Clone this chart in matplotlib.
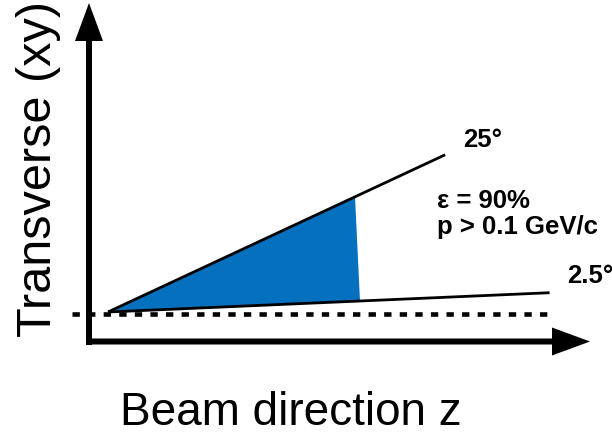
import numpy as np
import matplotlib
matplotlib.use("Agg")
import matplotlib.pyplot as plt

plt.rcParams["font.family"] = ["Liberation Sans", "DejaVu Sans"]

# acceptance edges (degrees from the beam axis) and how far each is drawn
edge_angles = [25, 2.5]
edge_lengths = [372, 442]
edge_labels = ["25°", "2.5°"]

# z where the shaded acceptance region stops on the upper / lower edge
accept_z = [247, 252]
accept_text = ["ε = 90%", "p > 0.1 GeV/c"]

axis_labels = ["Beam direction z", "Transverse (xy)"]

BLUE = "#0570BD"

fig = plt.figure(figsize=(6.12, 4.35), dpi=100)
ax = fig.add_axes([0, 0, 1, 1])
ax.set_xlim(-108, 504)
ax.set_ylim(-122, 313)
ax.axis("off")

slopes = np.tan(np.radians(edge_angles))

# shaded acceptance wedge
zt, zb = accept_z
ax.fill([0, zt, zb], [0, zt * slopes[0], zb * slopes[1]],
        color=BLUE, lw=0, zorder=1)

# the two cone edges
for ang, length in zip(edge_angles, edge_lengths):
    a = np.radians(ang)
    ax.plot([0, length * np.cos(a)], [0, length * np.sin(a)],
            color="black", lw=2, solid_capstyle="butt", zorder=3)

# beam line
ax.plot([-36, 440], [-1.5, -1.5], color="black", lw=3.3,
        dashes=(1.6, 1.8), zorder=2)

# coordinate arrows
arrow_kw = dict(width=6, head_width=28, head_length=38,
                length_includes_head=True, fc="black", ec="none", zorder=4)
ax.arrow(-19, -33, 0, 342, **arrow_kw)
ax.arrow(-22, -29.5, 504, 0, **arrow_kw)

# labels
bold = dict(fontsize=18.5, fontweight="bold", ha="left", va="baseline")
ax.text(355, 166, edge_labels[0], **bold)
ax.text(459, 30, edge_labels[1], **bold)
ax.text(329, 105, accept_text[0], **bold)
ax.text(329, 79, accept_text[1], **bold)

ax.text(183, -112, axis_labels[0], fontsize=33, ha="center", va="baseline")
ax.text(-69.5, 144, axis_labels[1], fontsize=35, rotation=90,
        ha="center", va="center")

fig.savefig("out.png", dpi=100)
